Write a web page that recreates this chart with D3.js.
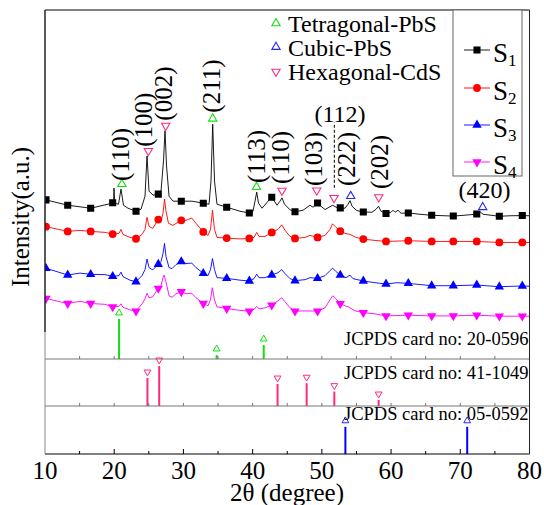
<!DOCTYPE html>
<html>
<head>
<meta charset="utf-8">
<script src="https://cdn.jsdelivr.net/npm/d3@7"></script>
<style>
  body { margin: 0; background: #fff; }
</style>
</head>
<body>
<div id="chart"></div>
<script>
// Données (2θ en degrés, intensité en u.a.)
const markX = [10.14, 13.28, 16.60, 19.78, 23.15, 26.37, 29.69, 32.87, 36.25, 39.52, 42.76,
  46.12, 49.38, 52.66, 55.99, 59.27, 62.49, 65.87, 68.99, 72.38, 75.64, 78.96];

const s1 = [[10.00,131],[10.14,131.3],[13.28,126],[16.60,123],[19.39,127.5],[19.78,128.5],[19.91,129],
  [19.97,143],[20.06,128],[20.62,127],[20.98,142],[21.34,126],[21.99,123],[23.15,120],[23.87,122],
  [24.45,135],[24.74,175],[25.03,140],[25.61,136],[26.37,137],[26.76,140],[27.12,170],[27.34,200],
  [27.56,165],[27.92,135],[28.49,130],[29.69,130],[31.24,130],[32.87,128],[33.70,127],[33.98,150],
  [34.23,206.5],[34.49,150],[34.85,127],[36.25,124],[38.18,120],[39.52,118.3],[40.06,120],[40.34,130],
  [40.59,139],[40.85,128],[41.36,123],[42.23,130],[42.76,134],[43.52,126],[43.95,130],[44.24,133.3],
  [44.60,127],[45.40,121.5],[46.12,119.5],[47.28,121],[48.29,126],[48.72,124],[49.37,128.3],[49.88,125],
  [50.46,121.7],[51.57,126],[52.05,124],[52.70,123.3],[53.35,123],[53.78,127],[54.07,130.5],[54.36,125],
  [55.04,120.7],[55.99,119.3],[57.25,119],[57.83,122],[58.19,125],[58.55,120],[59.27,117.7],[59.99,119],
  [60.28,121],[60.57,119],[61.00,121],[61.44,118],[62.49,118.3],[64.18,117],[65.87,116],[68.99,115.2],
  [71.41,116.5],[72.38,117.3],[72.85,119.5],[73.29,117],[75.64,115],[77.19,115.5],[78.96,115.7],[80.00,115.5]];

const s2 = [[10.00,104.5],[10.14,104.7],[13.28,100],[15.06,101],[16.60,100],[18.67,99],[19.78,97.3],
  [20.69,98],[20.98,102],[21.27,97],[22.28,94],[23.15,92.7],[24.02,97],[24.45,102],[24.74,114],
  [25.03,105],[25.56,103],[26.37,111.7],[26.76,110],[27.05,118],[27.27,132],[27.48,120],[27.84,108],
  [28.49,106],[29.69,111],[30.37,111],[31.20,113.3],[31.82,108],[32.87,99.5],[33.55,96],[33.91,102],
  [34.20,121],[34.49,102],[34.85,94],[36.25,93.3],[38.18,92.5],[39.52,93],[40.20,94],[40.59,99],
  [40.92,95],[41.79,95],[42.76,99],[43.67,102],[44.20,106.5],[44.68,101],[45.40,95],[46.12,93],
  [47.57,94],[48.29,96],[49.37,94],[50.46,96],[51.18,102],[51.54,107.5],[52.05,104],[52.70,100],
  [53.35,98],[54.07,97],[54.93,94],[55.99,92.3],[57.68,91],[59.27,90],[62.49,90.7],[65.87,90],
  [68.99,90],[72.38,90],[75.64,89],[78.96,89],[80.00,89]];

const s3 = [[10.00,63.5],[10.14,63.3],[13.28,56.7],[15.06,58.5],[16.60,57.3],[18.67,57],[19.78,55.3],
  [20.69,56],[20.98,59.5],[21.27,55],[22.28,51.5],[23.15,50],[24.02,56],[24.45,62],[24.74,72.5],
  [25.03,64],[25.56,61.7],[26.37,67.3],[26.76,70],[27.05,78],[27.27,88],[27.48,75],[27.92,64],
  [28.35,63],[28.93,67],[29.69,70],[30.37,68],[31.20,68.5],[31.82,64],[32.87,58.3],[33.55,56],
  [33.91,62],[34.20,73],[34.49,62],[34.85,54],[36.25,53.3],[38.18,51.5],[39.52,50.7],[40.20,53],
  [40.59,57.5],[40.92,54],[41.79,54],[42.76,56.7],[43.67,59],[44.20,62],[44.68,58],[45.40,53],
  [46.12,51],[47.57,52],[48.29,54],[49.40,53.3],[50.46,56],[51.18,61],[51.57,63.5],[52.05,60],
  [52.62,56.7],[53.49,54],[54.07,56.5],[54.50,53],[55.99,50.7],[57.68,49],[59.27,47.7],[60.86,49],
  [62.49,48.3],[65.87,46],[68.99,46],[72.38,46.7],[75.64,45],[78.96,45.7],[80.00,45.5]];

const s4 = [[10.00,33.5],[10.14,33.3],[13.28,28.3],[15.06,30.5],[16.60,28.3],[18.67,27.5],[19.78,25],
  [20.69,25.5],[20.98,28],[21.27,24.5],[22.28,22],[23.15,20.7],[24.02,28],[24.45,33],[24.74,38.5],
  [25.03,34],[25.56,35],[26.37,43.3],[26.76,46],[27.05,54],[27.19,56.5],[27.48,50],[27.92,36],
  [28.35,34.5],[28.93,38],[29.69,40],[30.37,38],[31.20,38.5],[31.82,34],[32.87,28.3],[33.55,26],
  [33.91,32],[34.17,44],[34.49,32],[34.85,25],[36.25,23.3],[38.18,21.5],[39.52,20.7],[40.20,22.5],
  [40.59,25.5],[40.92,23],[41.79,24],[42.76,26.7],[43.67,31],[44.20,34],[44.68,30],[45.40,24],
  [46.12,20.7],[47.57,21],[49.40,20.7],[50.46,24],[51.18,32],[51.57,36],[52.05,33],[52.62,28.3],
  [53.35,26],[53.82,25],[54.79,21],[55.99,19.3],[57.68,18],[59.27,16],[62.49,16.7],[65.87,16],
  [68.99,16],[72.38,16.7],[75.64,15.7],[78.96,15.7],[80.00,15.7]];

const seriesNames = ["1", "2", "3", "4"];
const seriesColors = ["#000000", "#ff0000", "#0000ff", "#ff00ff"];

// Pics indexés (position, hauteur du repère)
const tetraPeaks = [[21.11,147],[34.23,212],[40.56,144]];
const hexPeaks = [[24.93,180],[27.44,205],[44.24,140.5],[49.26,140.7],[51.76,133.3],[58.22,134]];
const cubicPeaks = [[54.17,135],[73.24,124]];

const peakLabels = [["(110)",21.13,150],["(100)",24.59,184],["(002)",27.48,210],["(211)",34.35,218],
  ["(113)",40.78,148],["(110)",44.32,147],["(103)",49.01,145],["(222)",53.85,145],["(202)",58.55,142]];
const flatLabels = [["(112)",52.62,209],["(420)",73.50,133]];
const dashLine = [[51.80,143.3],[51.80,208.3]];

// Fiches JCPDS
const tetraRef = [[20.7,100],[34.8,10],[41.6,35]];
const hexRef = [[24.8,70],[26.5,100],[43.6,55],[47.8,57],[51.8,36],[58.2,15]];
const cubicRef = [[53.4,68],[71.0,68]];
const refCards = ["JCPDS card no: 20-0596", "JCPDS card no: 41-1049", "JCPDS card no: 05-0592"];

const xTicks = [10, 20, 30, 40, 50, 60, 70, 80];
const xMinor = [15, 25, 35, 45, 55, 65, 75];
const phaseNames = ["Tetragonal-PbS", "Cubic-PbS", "Hexagonal-CdS"];

document.addEventListener('DOMContentLoaded', function() {
    const width = 544, height = 505;
    const left = 45, right = 529.5, top = 10, mainBottom = 332;
    const panelBottoms = [359, 406, 454];
    const green = "#10e010", pink = "#ff2a7f", blueRef = "#2a2aff";

    const svg = d3.select("#chart").append("svg")
        .attr("width", width).attr("height", height);

    const x = d3.scaleLinear().domain([10, 80]).range([left, right]);
    const y = d3.scaleLinear().domain([0, 320]).range([mainBottom, top]);

    svg.append("clipPath").attr("id", "clip")
        .append("rect").attr("x", left).attr("y", top)
        .attr("width", right - left).attr("height", mainBottom - top);

    const line = d3.line().x(d => x(d[0])).y(d => y(d[1]));

    // valeur de la courbe à une position donnée (pour placer les symboles)
    function yAt(data, xv) {
        const i = d3.bisector(d => d[0]).left(data, xv);
        if (i <= 0) return data[0][1];
        if (i >= data.length) return data[data.length - 1][1];
        const a = data[i - 1], b = data[i];
        return a[1] + (xv - a[0]) / (b[0] - a[0]) * (b[1] - a[1]);
    }

    const symbols = [
        d3.symbol().type(d3.symbolSquare).size(50),
        d3.symbol().type(d3.symbolCircle).size(48),
        d3.symbol().type(d3.symbolTriangle).size(38),
        d3.symbol().type(d3.symbolTriangle).size(38)
    ];
    const rot = [0, 0, 0, 180];

    const plot = svg.append("g").attr("clip-path", "url(#clip)");
    [s1, s2, s3, s4].forEach((data, k) => {
        plot.append("path").datum(data)
            .attr("fill", "none").attr("stroke", seriesColors[k])
            .attr("stroke-width", 0.9).attr("d", line);
        plot.selectAll(null).data(markX).enter().append("path")
            .attr("d", symbols[k]())
            .attr("fill", seriesColors[k])
            .attr("transform", d => `translate(${x(d)},${y(yAt(data, d))}) rotate(${rot[k]})`);
    });

    // repères des phases (triangles vides)
    function drawTri(g, pts, color, down, sc, size) {
        g.selectAll(null).data(pts).enter().append("path")
            .attr("d", d3.symbol().type(d3.symbolTriangle).size(size)())
            .attr("fill", "none").attr("stroke", color).attr("stroke-width", 1.1)
            .attr("transform", d => `translate(${x(d[0])},${sc(d[1])}) rotate(${down ? 180 : 0})`);
    }
    drawTri(svg, tetraPeaks, green, false, y, 30);
    drawTri(svg, hexPeaks, pink, true, y, 30);
    drawTri(svg, cubicPeaks, blueRef, false, y, 30);

    // étiquettes (hkl)
    svg.selectAll(null).data(peakLabels).enter().append("text")
        .attr("transform", d => `translate(${x(d[1])},${y(d[2])}) rotate(-90)`)
        .attr("dy", "0.26em").attr("font-size", 25).text(d => d[0]);
    svg.selectAll(null).data(flatLabels).enter().append("text")
        .attr("x", d => x(d[1])).attr("y", d => y(d[2]))
        .attr("text-anchor", "middle").attr("font-size", 24).text(d => d[0]);
    svg.append("path").datum(dashLine).attr("d", line)
        .attr("stroke", "#000").attr("stroke-width", 1).attr("stroke-dasharray", "3,2");

    // panneaux JCPDS
    const refs = [[tetraRef, green, false], [hexRef, pink, true], [cubicRef, "#0000ff", false]];
    refs.forEach((r, k) => {
        const b = panelBottoms[k];
        const sc = d3.scaleLinear().domain([0, 100]).range([b, b - 40]);
        svg.selectAll(null).data(r[0]).enter().append("line")
            .attr("x1", d => x(d[0])).attr("x2", d => x(d[0]))
            .attr("y1", b).attr("y2", d => sc(d[1]))
            .attr("stroke", r[1]).attr("stroke-width", 2);
        svg.selectAll(null).data(r[0]).enter().append("path")
            .attr("d", d3.symbol().type(d3.symbolTriangle).size(20)())
            .attr("fill", "none").attr("stroke", k == 2 ? blueRef : r[1]).attr("stroke-width", 1)
            .attr("transform", d => `translate(${x(d[0])},${sc(d[1]) - 6}) rotate(${r[2] ? 180 : 0})`);
        svg.append("text").attr("x", right - 1).attr("y", [345, 379, 420][k])
            .attr("text-anchor", "end").attr("font-size", 18.5).text(refCards[k]);
        // ligne de séparation + petites graduations
        svg.append("line").attr("x1", left).attr("x2", right).attr("y1", b).attr("y2", b)
            .attr("stroke", k == 2 ? "#000" : "#777").attr("stroke-width", 1);
        svg.selectAll(null).data(k == 2 ? xMinor : xMinor.concat(xTicks.slice(1, -1))).enter().append("line")
            .attr("x1", d => x(d)).attr("x2", d => x(d))
            .attr("y1", b).attr("y2", b - 3)
            .attr("stroke", k == 2 ? "#000" : "#777");
    });
    svg.selectAll(null).data(xTicks.slice(1, -1)).enter().append("line")
        .attr("x1", d => x(d)).attr("x2", d => x(d))
        .attr("y1", 454).attr("y2", 449).attr("stroke", "#000");

    // cadre
    svg.append("line").attr("x1", left).attr("x2", right).attr("y1", top).attr("y2", top).attr("stroke", "#000");
    svg.append("line").attr("x1", right).attr("x2", right).attr("y1", top).attr("y2", 454).attr("stroke", "#222");
    svg.append("line").attr("x1", left).attr("x2", left).attr("y1", top).attr("y2", mainBottom)
        .attr("stroke", "#222").attr("stroke-width", 1.5);
    svg.append("line").attr("x1", left).attr("x2", left).attr("y1", mainBottom).attr("y2", 454).attr("stroke", "#888");

    // axe x
    svg.selectAll(null).data(xTicks).enter().append("text")
        .attr("x", d => x(d)).attr("y", 479).attr("text-anchor", "middle")
        .attr("font-size", 25).text(d => d);
    svg.append("text").attr("x", 287).attr("y", 501).attr("text-anchor", "middle")
        .attr("font-size", 25).text("2θ (degree)");
    svg.append("text").attr("transform", "translate(29,217) rotate(-90)")
        .attr("text-anchor", "middle").attr("font-size", 25).text("Intensity(a.u.)");

    // légende des phases
    const legY = [23.3, 47, 71.7];
    const legCol = [green, blueRef, pink];
    phaseNames.forEach((n, i) => {
        svg.append("path").attr("d", d3.symbol().type(d3.symbolTriangle).size(30)())
            .attr("fill", "none").attr("stroke", legCol[i]).attr("stroke-width", 1.1)
            .attr("transform", `translate(276,${legY[i]}) rotate(${i == 2 ? 180 : 0})`);
        svg.append("text").attr("x", 288).attr("y", legY[i] + 8.5)
            .attr("font-size", 24).text(n);
    });

    // légende des échantillons
    svg.append("rect").attr("x", 453).attr("y", top).attr("width", 69).attr("height", 166)
        .attr("fill", "#fff").attr("stroke", "#666").attr("stroke-width", 1);
    const rowY = [50, 88, 125, 162];
    seriesNames.forEach((n, k) => {
        svg.append("line").attr("x1", 464).attr("x2", 490).attr("y1", rowY[k]).attr("y2", rowY[k])
            .attr("stroke", seriesColors[k]).attr("stroke-width", 0.9);
        svg.append("path").attr("d", symbols[k]()).attr("fill", seriesColors[k])
            .attr("transform", `translate(477,${rowY[k]}) rotate(${rot[k]})`);
        const t = svg.append("text").attr("x", 493).attr("y", rowY[k] + 12).attr("font-size", 27);
        t.append("tspan").text("S");
        t.append("tspan").attr("font-size", 17).attr("dy", 4).text(n);
    });

    // police à empattements partout
    svg.selectAll("text").style("font-family", '"Liberation Serif"').style("fill", "#000");
});
</script>
</body>
</html>
